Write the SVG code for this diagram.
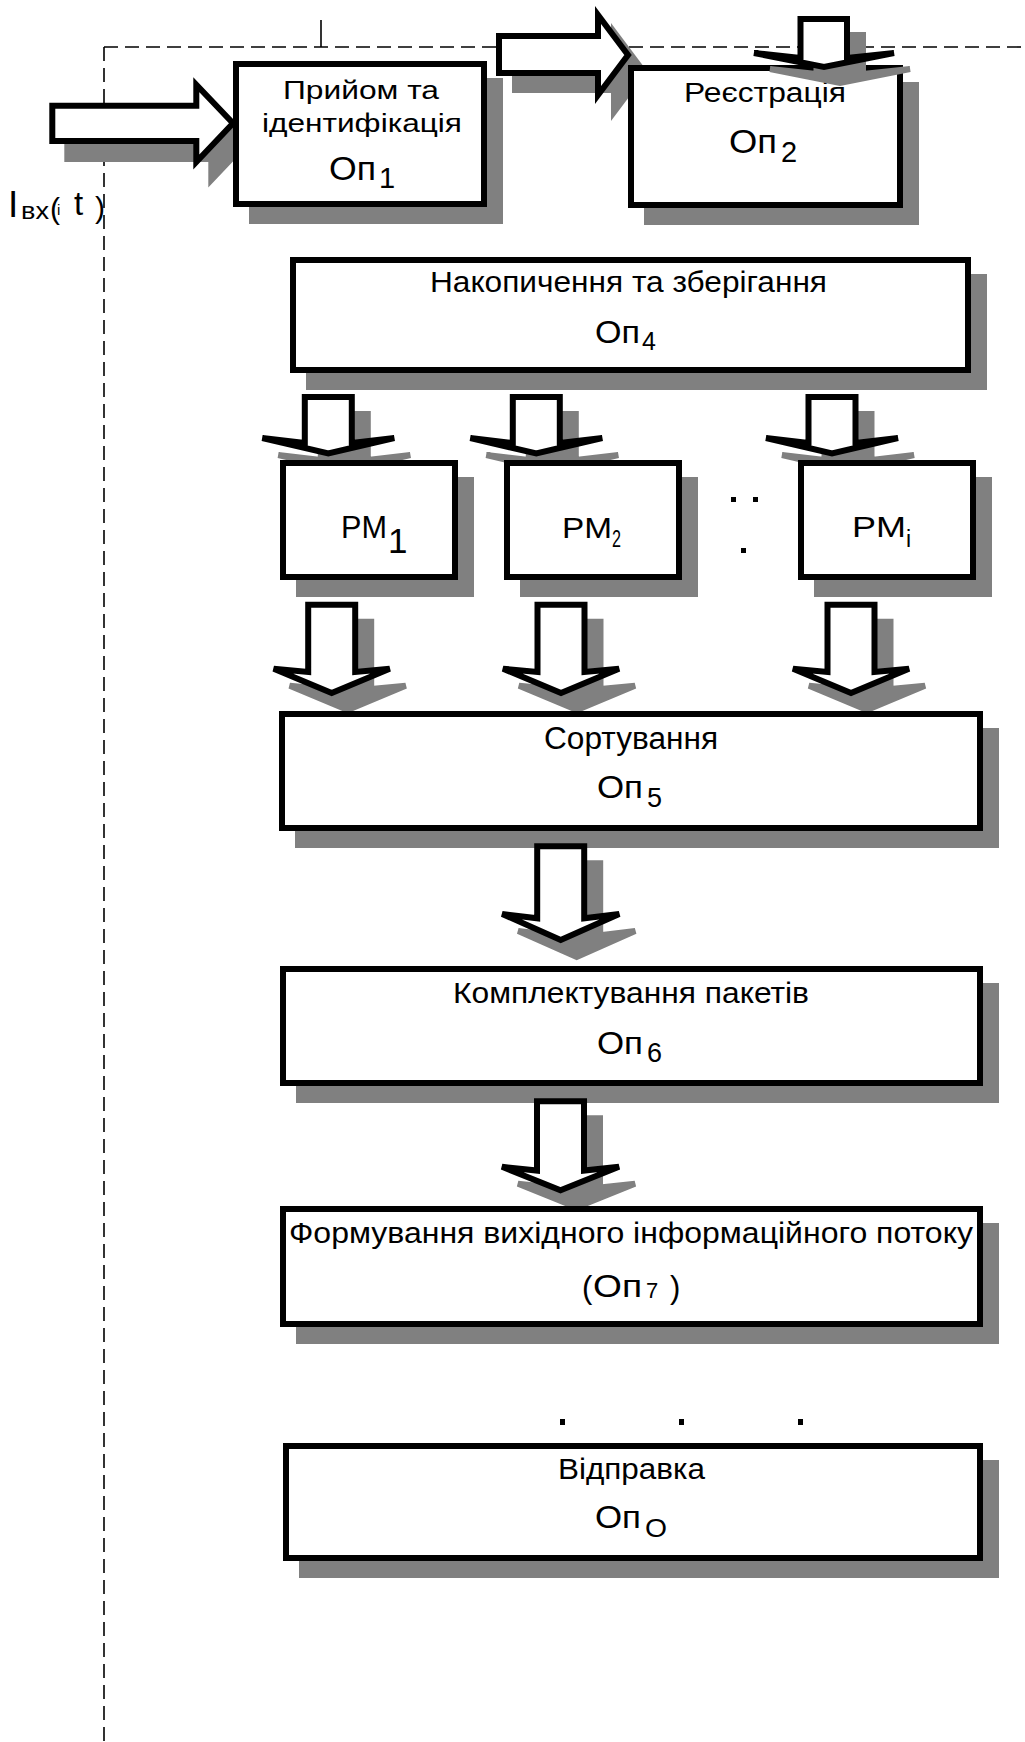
<svg xmlns="http://www.w3.org/2000/svg" width="1025" height="1742" viewBox="0 0 1025 1742">
<defs>
<style>
.box{fill:#fff;stroke:#000;stroke-width:6}
.sh{fill:#808080;stroke:#808080;stroke-width:6}
.ar{fill:#fff;stroke:#000;stroke-width:6;stroke-linejoin:miter;stroke-miterlimit:4}
.ash{fill:#808080;stroke:#808080;stroke-width:6}
.dash{fill:none;stroke:#000;stroke-width:1.6;stroke-dasharray:14 7}
text{font-family:"Liberation Sans",Arial,sans-serif;fill:#000}
</style>
<clipPath id="noBox" clipPathUnits="userSpaceOnUse">
<path clip-rule="evenodd" d="M0,0H1025V1742H0Z M233,61H487V207H233Z M628,65H903V208H628Z M290,257H971V373H290Z M280,460H458V580H280Z M504,460H682V580H504Z M798,460H976V580H798Z M279,711H983V831H279Z M280,966H983V1086H280Z M280,1206H983V1327H280Z"/>
</clipPath>
</defs>
<rect width="1025" height="1742" fill="#fff"/>

<g id="frame">
<line class="dash" x1="104" y1="47" x2="1025" y2="47"/>
<line class="dash" x1="104" y1="47" x2="104" y2="1742"/>
<line x1="321" y1="20" x2="321" y2="47" stroke="#000" stroke-width="1.6"/>
</g>

<g id="input-label">
<text x="8" y="217" font-size="37">I</text>
<text x="21" y="219" font-size="24" textLength="28" lengthAdjust="spacingAndGlyphs">вх</text>
<text x="50" y="219" font-size="30">(</text>
<text x="57" y="215" font-size="15">i</text>
<text x="74" y="215" font-size="33">t</text>
<text x="95" y="218" font-size="30">)</text>
</g>

<g id="op1">
<rect class="sh" x="252" y="81" width="248" height="140"/>
<rect class="box" x="236" y="64" width="248" height="140"/>
<text x="283" y="99" font-size="26" textLength="156" lengthAdjust="spacingAndGlyphs">Прийом та</text>
<text x="262" y="132" font-size="26" textLength="200" lengthAdjust="spacingAndGlyphs">ідентифікація</text>
<text x="329" y="180" font-size="34" textLength="47" lengthAdjust="spacingAndGlyphs">Оп</text>
<text x="379" y="188" font-size="29">1</text>
</g>

<g id="op2">
<rect class="sh" x="647" y="85" width="269" height="137"/>
<rect class="box" x="631" y="68" width="269" height="137"/>
<text x="684" y="102" font-size="27" textLength="162" lengthAdjust="spacingAndGlyphs">Реєстрація</text>
<text x="729" y="153" font-size="34" textLength="48" lengthAdjust="spacingAndGlyphs">Оп</text>
<text x="781" y="162" font-size="29">2</text>
</g>

<g id="op4">
<rect class="sh" x="309" y="277" width="675" height="110"/>
<rect class="box" x="293" y="260" width="675" height="110"/>
<text x="430" y="292" font-size="29" textLength="397" lengthAdjust="spacingAndGlyphs">Накопичення та зберігання</text>
<text x="595" y="343" font-size="31" textLength="45" lengthAdjust="spacingAndGlyphs">Оп</text>
<text x="642" y="350" font-size="25">4</text>
</g>

<g id="pm1">
<rect class="sh" x="299" y="480" width="172" height="114"/>
<rect class="box" x="283" y="463" width="172" height="114"/>
<text x="341" y="538" font-size="32" textLength="46" lengthAdjust="spacingAndGlyphs">PM</text>
<text x="388" y="553" font-size="35">1</text>
</g>

<g id="pm2">
<rect class="sh" x="523" y="480" width="172" height="114"/>
<rect class="box" x="507" y="463" width="172" height="114"/>
<text x="562" y="538" font-size="30" textLength="50" lengthAdjust="spacingAndGlyphs">PM</text>
<text x="612" y="547" font-size="23" textLength="9" lengthAdjust="spacingAndGlyphs">2</text>
</g>

<g id="pmi">
<rect class="sh" x="817" y="480" width="172" height="114"/>
<rect class="box" x="801" y="463" width="172" height="114"/>
<text x="852" y="537" font-size="29" textLength="54" lengthAdjust="spacingAndGlyphs">PM</text>
<text x="906" y="547" font-size="23">i</text>
</g>

<g id="pm-dots">
<rect x="731" y="497" width="5" height="5"/>
<rect x="753" y="497" width="5" height="5"/>
<rect x="741" y="548" width="5" height="5"/>
</g>

<g id="op5">
<rect class="sh" x="298" y="731" width="698" height="114"/>
<rect class="box" x="282" y="714" width="698" height="114"/>
<text x="544" y="749" font-size="31" textLength="174" lengthAdjust="spacingAndGlyphs">Сортування</text>
<text x="597" y="798" font-size="32" textLength="46" lengthAdjust="spacingAndGlyphs">Оп</text>
<text x="647" y="807" font-size="27">5</text>
</g>

<g id="op6">
<rect class="sh" x="299" y="986" width="697" height="114"/>
<rect class="box" x="283" y="969" width="697" height="114"/>
<text x="453" y="1003" font-size="30" textLength="356" lengthAdjust="spacingAndGlyphs">Комплектування пакетів</text>
<text x="597" y="1054" font-size="32" textLength="46" lengthAdjust="spacingAndGlyphs">Оп</text>
<text x="647" y="1062" font-size="27">6</text>
</g>

<g id="op7">
<rect class="sh" x="299" y="1226" width="697" height="115"/>
<rect class="box" x="283" y="1209" width="697" height="115"/>
<text x="289" y="1243" font-size="30" textLength="684" lengthAdjust="spacingAndGlyphs">Формування вихідного інформаційного потоку</text>
<text x="582" y="1298" font-size="31">(</text>
<text x="593" y="1297" font-size="32" textLength="49" lengthAdjust="spacingAndGlyphs">Оп</text>
<text x="646" y="1298" font-size="22">7</text>
<text x="670" y="1298" font-size="31">)</text>
</g>

<g id="bottom-dots">
<rect x="560" y="1419" width="5" height="6"/>
<rect x="679" y="1419" width="5" height="6"/>
<rect x="798" y="1419" width="5" height="6"/>
</g>

<g id="op0">
<rect class="sh" x="302" y="1463" width="694" height="112"/>
<rect class="box" x="286" y="1446" width="694" height="112"/>
<text x="558" y="1479" font-size="30" textLength="147" lengthAdjust="spacingAndGlyphs">Відправка</text>
<text x="595" y="1528" font-size="31" textLength="46" lengthAdjust="spacingAndGlyphs">Оп</text>
<text x="645" y="1537" font-size="25" textLength="22" lengthAdjust="spacingAndGlyphs">O</text>
</g>

<g id="connectors">
<g clip-path="url(#noBox)">
<path class="ash" transform="translate(15,18)" d="M52.3,105.7 H196.3 V84.7 L233,123.3 L196.3,162 V141 H52.3 Z"/>
<path class="ash" transform="translate(16,17)" d="M499,36 H598 V15 L628,55 L598,95 V73 H499 Z"/>
<path class="ash" transform="translate(344.3,414)" d="M-23.5,0 H23.5 V46 L66,41 L0,56.5 L-66,41 L-23.5,46 Z"/>
<path class="ash" transform="translate(552.3,414)" d="M-23.5,0 H23.5 V46 L66,41 L0,56.5 L-66,41 L-23.5,46 Z"/>
<path class="ash" transform="translate(848,414)" d="M-23.5,0 H23.5 V46 L66,41 L0,56.5 L-66,41 L-23.5,46 Z"/>
<path class="ash" transform="translate(347.7,621.7)" d="M-23.5,0 H23.5 V67.3 L58,64 L0,88.3 L-58,64 L-23.5,67.3 Z"/>
<path class="ash" transform="translate(577,621.7)" d="M-23.5,0 H23.5 V67.3 L58,64 L0,88.3 L-58,64 L-23.5,67.3 Z"/>
<path class="ash" transform="translate(867,621.7)" d="M-23.5,0 H23.5 V67.3 L58,64 L0,88.3 L-58,64 L-23.5,67.3 Z"/>
<path class="ash" transform="translate(576.7,863.3)" d="M-23.5,0 H23.5 V72 L58.5,67.7 L0,93.7 L-58.5,67.7 L-23.5,72 Z"/>
<path class="ash" transform="translate(576.5,1118.3)" d="M-23.5,0 H23.5 V69.3 L58.5,65.5 L0,89 L-58.5,65.5 L-23.5,69.3 Z"/>
</g>
<path class="ash" transform="translate(16,16)" d="M800.5,19 H847 V58 L894,53 L824,67 L754,53 L800.5,58 Z"/>

<path class="ar" d="M52.3,105.7 H196.3 V84.7 L233,123.3 L196.3,162 V141 H52.3 Z"/>
<path class="ar" d="M499,36 H598 V15 L628,55 L598,95 V73 H499 Z"/>
<path class="ar" d="M800.5,19 H847 V58 L894,53 L824,67 L754,53 L800.5,58 Z"/>
<path class="ar" transform="translate(328.3,397)" d="M-23.5,0 H23.5 V46 L66,41 L0,56.5 L-66,41 L-23.5,46 Z"/>
<path class="ar" transform="translate(536.3,397)" d="M-23.5,0 H23.5 V46 L66,41 L0,56.5 L-66,41 L-23.5,46 Z"/>
<path class="ar" transform="translate(832,397)" d="M-23.5,0 H23.5 V46 L66,41 L0,56.5 L-66,41 L-23.5,46 Z"/>
<path class="ar" transform="translate(331.7,604.7)" d="M-23.5,0 H23.5 V67.3 L58,64 L0,88.3 L-58,64 L-23.5,67.3 Z"/>
<path class="ar" transform="translate(561,604.7)" d="M-23.5,0 H23.5 V67.3 L58,64 L0,88.3 L-58,64 L-23.5,67.3 Z"/>
<path class="ar" transform="translate(851,604.7)" d="M-23.5,0 H23.5 V67.3 L58,64 L0,88.3 L-58,64 L-23.5,67.3 Z"/>
<path class="ar" transform="translate(560.7,846.3)" d="M-23.5,0 H23.5 V72 L58.5,67.7 L0,93.7 L-58.5,67.7 L-23.5,72 Z"/>
<path class="ar" transform="translate(560.5,1101.3)" d="M-23.5,0 H23.5 V69.3 L58.5,65.5 L0,89 L-58.5,65.5 L-23.5,69.3 Z"/>
</g>
</svg>
